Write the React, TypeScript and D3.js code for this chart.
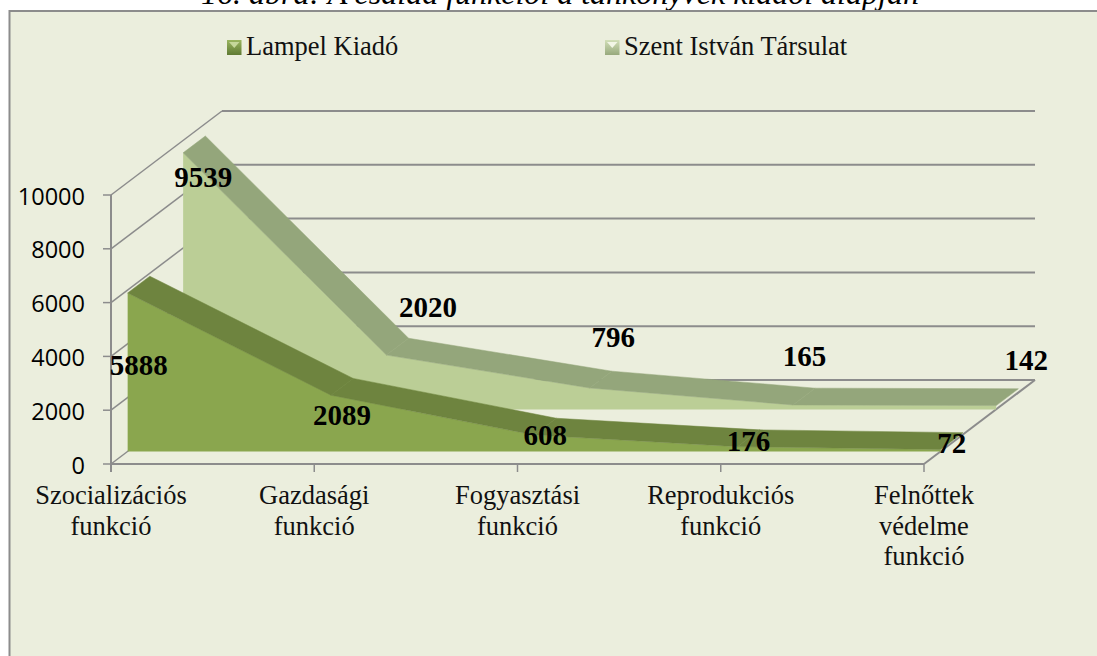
import React, { useEffect, useRef } from "react";
import * as d3 from "d3";

const categories = [
  ["Szocializációs", "funkció"],
  ["Gazdasági", "funkció"],
  ["Fogyasztási", "funkció"],
  ["Reprodukciós", "funkció"],
  ["Felnőttek", "védelme", "funkció"],
];
const lampel = [5888, 2089, 608, 176, 72];
const szent = [9539, 2020, 796, 165, 142];
const yTicks = [0, 2000, 4000, 6000, 8000, 10000];
const titleText = "16. ábra: A család funkciói a tankönyvek kiadói alapján";

const W = 1097;
const H = 656;
const serif = "'Liberation Serif', 'Times New Roman', serif";
const sans = "'Open Sans', 'Noto Sans', sans-serif";

// oblique depth of the fake 3d box
const depthX = 111;
const depthY = 84;

// hand placed data labels, offset from the middle of the ribbon
const lampelNudge = [[0, 81], [0, 29], [0, 9], [0, 3], [0, 2]];
const szentNudge = [[9, 33], [30.5, -39], [12.5, -42], [0.6, -39.6], [19, -37]];

export default function App() {
  const ref = useRef<SVGSVGElement>(null);

  useEffect(() => {
    const svg = d3.select(ref.current);
    svg.selectAll("*").remove();

    const x = d3.scaleLinear().domain([0, 4]).range([111, 924]);
    const y = d3.scaleLinear().domain([0, 10000]).range([464, 195]);
    const px = (i: number, d: number) => x(i) + d * depthX;
    const py = (v: number, d: number) => y(v) - d * depthY;

    const defs = svg.append("defs");
    const legendGrad = (id: string, a: string, b: string) => {
      const g = defs.append("linearGradient").attr("id", id).attr("x1", 0).attr("x2", 0).attr("y1", 0).attr("y2", 1);
      g.append("stop").attr("offset", "0%").attr("stop-color", a);
      g.append("stop").attr("offset", "100%").attr("stop-color", b);
    };
    legendGrad("lg1", "#9ab55f", "#5f7a33");
    legendGrad("lg2", "#d2dfb8", "#97a97c");

    // title is cut by the panel in the source image
    svg.append("text")
      .attr("x", 560).attr("y", 4)
      .attr("text-anchor", "middle")
      .style("font-family", serif).style("font-style", "italic").style("font-size", "32px")
      .attr("fill", "#000")
      .text(titleText);

    svg.append("rect")
      .attr("x", 9.5).attr("y", 11)
      .attr("width", W).attr("height", H)
      .attr("fill", "#ebeedd")
      .attr("stroke", "#8c8c8c").attr("stroke-width", 2);

    const grid = "#8c8c8c";
    const backX = x(4) + depthX;

    // back wall and side wall
    yTicks.forEach(t => {
      svg.append("line")
        .attr("x1", px(0, 1)).attr("x2", backX)
        .attr("y1", py(t, 1)).attr("y2", py(t, 1))
        .attr("stroke", grid).attr("stroke-width", 2);
      svg.append("line")
        .attr("x1", px(0, 0)).attr("x2", px(0, 1))
        .attr("y1", py(t, 0)).attr("y2", py(t, 1))
        .attr("stroke", grid).attr("stroke-width", 1.5);
      svg.append("line")
        .attr("x1", x(0) - 8).attr("x2", x(0))
        .attr("y1", y(t)).attr("y2", y(t))
        .attr("stroke", grid).attr("stroke-width", 1.5);
      svg.append("text")
        .attr("x", 85).attr("y", y(t) + 9.5)
        .attr("text-anchor", "end")
        .style("font-family", sans).style("font-size", "23.5px")
        .attr("fill", "#000")
        .text(t);
    });

    // floor edge on the right
    svg.append("line")
      .attr("x1", px(4, 0)).attr("x2", px(4, 1))
      .attr("y1", py(0, 0)).attr("y2", py(0, 1))
      .attr("stroke", grid).attr("stroke-width", 2);

    const ribbon = (vals: number[], d0: number, d1: number, face: string, top: string) => {
      const g = svg.append("g");
      const area = d3.area<number>()
        .x((_, i) => px(i, d0))
        .y0(py(0, d0))
        .y1(v => py(v, d0));
      g.append("path").datum(vals).attr("d", area).attr("fill", face);

      // top surface, one quad per segment
      const quad = d3.line<[number, number]>();
      d3.pairs(vals).forEach(([a, b], i) => {
        const pts: [number, number][] = [
          [px(i, d0), py(a, d0)],
          [px(i, d1), py(a, d1)],
          [px(i + 1, d1), py(b, d1)],
          [px(i + 1, d0), py(b, d0)],
        ];
        g.append("path").attr("d", quad(pts) + "Z").attr("fill", top).attr("stroke", top).attr("stroke-width", 0.5);
      });
    };

    ribbon(szent, 0.65, 0.85, "#bbce96", "#94a67b");
    ribbon(lampel, 0.15, 0.35, "#8aa64e", "#6e843f");

    // front axis
    svg.append("line")
      .attr("x1", x(0)).attr("x2", x(4))
      .attr("y1", y(0)).attr("y2", y(0))
      .attr("stroke", grid).attr("stroke-width", 2);
    svg.append("line")
      .attr("x1", x(0)).attr("x2", x(0))
      .attr("y1", y(10000)).attr("y2", y(0) + 8)
      .attr("stroke", grid).attr("stroke-width", 2);

    categories.forEach((lines, i) => {
      svg.append("line")
        .attr("x1", x(i)).attr("x2", x(i))
        .attr("y1", y(0)).attr("y2", y(0) + 8)
        .attr("stroke", grid).attr("stroke-width", 1.5);
      lines.forEach((s, j) => {
        svg.append("text")
          .attr("x", x(i)).attr("y", 504 + j * 30.5)
          .attr("text-anchor", "middle")
          .style("font-family", serif).style("font-size", "26.5px")
          .attr("fill", "#111")
          .text(s);
      });
    });

    // data labels
    const labels = (vals: number[], mid: number, nudge: number[][]) => {
      vals.forEach((v, i) => {
        svg.append("text")
          .attr("x", px(i, mid) + nudge[i][0])
          .attr("y", py(v, mid) + nudge[i][1] + 9.5)
          .attr("text-anchor", "middle")
          .style("font-family", serif).style("font-size", "29px").style("font-weight", "bold")
          .attr("fill", "#000")
          .text(v);
      });
    };
    labels(lampel, 0.25, lampelNudge);
    labels(szent, 0.75, szentNudge);

    // legend
    const legend = [
      { name: "Lampel Kiadó", at: 227, fill: "url(#lg1)", tip: "#c5d79a", text: 246 },
      { name: "Szent István Társulat", at: 605, fill: "url(#lg2)", tip: "#f2f6e6", text: 624 },
    ];
    legend.forEach(l => {
      svg.append("rect").attr("x", l.at).attr("y", 40).attr("width", 14.5).attr("height", 15).attr("fill", l.fill);
      svg.append("path")
        .attr("d", `M${l.at + 2},42H${l.at + 12.5}L${l.at + 7.25},48Z`)
        .attr("fill", l.tip);
      svg.append("text")
        .attr("x", l.text).attr("y", 55)
        .style("font-family", serif).style("font-size", "26.5px")
        .attr("fill", "#111")
        .text(l.name);
    });
  }, []);

  return (
    <svg
      ref={ref}
      width={W}
      height={H}
      style={{ position: "absolute", left: 0, top: 0, background: "#fff" }}
    />
  );
}
